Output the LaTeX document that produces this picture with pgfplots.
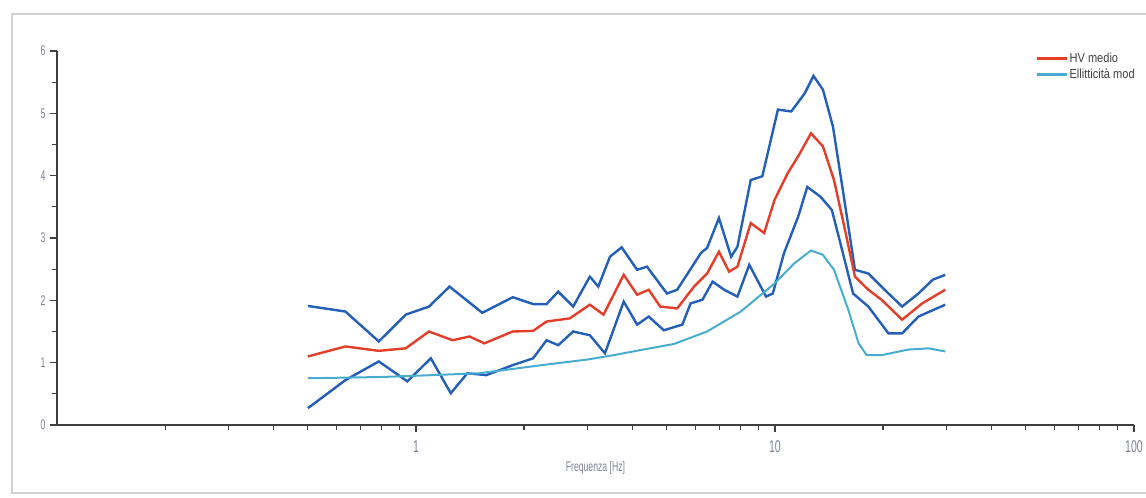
\documentclass[border=0pt]{standalone}
\usepackage{fontspec}
\setmainfont{Liberation Sans}
\newfontfamily\condfont{Liberation Sans}[FakeStretch=0.62]
\newfontfamily\legfont{Liberation Sans}[FakeStretch=0.85]
\usepackage{pgfplots}
\usepackage{pgfplotstable}
\pgfplotsset{compat=1.18}
\definecolor{hvred}{RGB}{228,62,42}
\definecolor{hvblue}{RGB}{35,95,185}
\definecolor{ellcyan}{RGB}{72,172,208}
\definecolor{lblgray}{RGB}{125,130,150}

\pgfplotstableread{
f v
0.5 1.10
0.636 1.26
0.788 1.19
0.936 1.23
1.087 1.50
1.264 1.36
1.41 1.42
1.55 1.31
1.86 1.50
2.12 1.51
2.31 1.66
2.68 1.71
3.05 1.93
3.33 1.77
3.79 2.41
4.13 2.09
4.45 2.17
4.79 1.90
5.34 1.87
5.95 2.22
6.47 2.43
6.98 2.78
7.45 2.46
7.86 2.54
8.56 3.24
9.33 3.08
9.97 3.61
10.85 4.04
11.6 4.31
12.6 4.68
13.6 4.47
14.6 3.93
15.6 3.18
16.7 2.38
18.2 2.17
19.8 2.01
22.6 1.69
25.7 1.95
29.8 2.17
}\hvmedio

\pgfplotstableread{
f v
0.5 1.91
0.636 1.82
0.788 1.34
0.936 1.77
1.087 1.90
1.24 2.22
1.53 1.80
1.86 2.05
2.12 1.94
2.31 1.94
2.49 2.14
2.74 1.90
3.05 2.38
3.22 2.22
3.47 2.70
3.74 2.85
4.13 2.49
4.40 2.54
5.0 2.11
5.34 2.17
6.22 2.76
6.47 2.84
6.98 3.32
7.55 2.70
7.86 2.86
8.56 3.93
9.22 3.99
10.19 5.06
11.1 5.03
12.1 5.32
12.8 5.60
13.6 5.38
14.5 4.79
15.5 3.72
16.7 2.49
18.2 2.43
20.2 2.17
22.6 1.90
25.1 2.11
27.5 2.33
29.8 2.41
}\hvmax

\pgfplotstableread{
f v
0.5 0.27
0.636 0.72
0.788 1.02
0.946 0.70
1.10 1.07
1.25 0.51
1.39 0.83
1.57 0.80
1.86 0.96
2.12 1.07
2.31 1.36
2.49 1.28
2.74 1.50
3.05 1.44
3.36 1.15
3.79 1.98
4.13 1.61
4.45 1.74
4.90 1.52
5.52 1.61
5.82 1.95
6.28 2.01
6.70 2.30
7.22 2.17
7.86 2.06
8.48 2.57
9.44 2.06
9.86 2.11
10.6 2.76
11.6 3.34
12.3 3.82
13.4 3.66
14.4 3.45
15.3 2.86
16.5 2.11
18.2 1.90
20.7 1.47
22.6 1.47
25.1 1.74
29.8 1.93
}\hvmin

\pgfplotstableread{
f v
0.5 0.75
0.8 0.77
1.0 0.79
1.5 0.83
2.31 0.97
3.0 1.05
3.55 1.12
4.2 1.20
5.23 1.30
6.47 1.50
8.03 1.82
9.97 2.27
11.3 2.59
12.6 2.80
13.6 2.73
14.6 2.49
16.0 1.85
17.1 1.31
18.0 1.12
19.8 1.12
23.5 1.21
26.8 1.23
29.8 1.18
}\ellitt

\begin{document}
\begin{tikzpicture}
\useasboundingbox (0pt,0pt) rectangle (1146pt,498pt);
\draw[black!18, line width=2pt] (1146pt,484pt) -- (12pt,484pt) -- (12pt,5pt) -- (1146pt,5pt);
\begin{axis}[
  at={(57pt,73pt)}, anchor=south west,
  scale only axis, width=1077pt, height=374pt,
  xmode=log, xmin=0.1, xmax=100, ymin=0, ymax=6,
  axis x line*=bottom, axis y line*=left,
  axis line style={line width=2pt, draw=black!75, -},
  tick align=outside, major tick length=7pt, minor tick length=5pt,
  every tick/.style={line width=1.1pt, black!75},
  xtick={1,10,100}, xticklabels={1,10,100},
  minor xtick={0.2,0.3,0.4,0.5,0.6,0.7,0.8,0.9,2,3,4,5,6,7,8,9,20,30,40,50,60,70,80,90},
  ytick={0,1,2,3,4,5,6},
  minor ytick={0.5,1.5,2.5,3.5,4.5,5.5},
  /pgf/number format/assume math mode=true,
  yticklabel style={font=\condfont\fontsize{14}{15}\selectfont, text=lblgray, xshift=-1pt},
  xticklabel style={font=\condfont\fontsize{17}{18}\selectfont, text=lblgray, yshift=-5pt},
  xlabel={Frequenza [Hz]},
  xlabel style={font=\condfont\fontsize{14}{15}\selectfont, text=lblgray, yshift=-2pt},
  legend style={at={(0.908,1.0)}, anchor=north west, draw=none, fill=none,
    font=\legfont\fontsize{13}{15}\selectfont, inner sep=0pt, row sep=2.5pt,
    nodes={inner sep=1.5pt, text=black!75}},
  legend cell align=left,
  legend image code/.code={\draw[#1, line width=3pt] (0pt,0pt) -- (30pt,0pt);},
  clip=false
]
\addplot[hvblue, line width=2.4pt, forget plot] table[x=f, y=v] {\hvmax};
\addplot[hvblue, line width=2.4pt, forget plot] table[x=f, y=v] {\hvmin};
\addplot[hvred, line width=2.4pt] table[x=f, y=v] {\hvmedio};
\addplot[ellcyan, line width=2pt] table[x=f, y=v] {\ellitt};
\legend{HV medio, Ellitticità mod}
\end{axis}
\end{tikzpicture}
\end{document}
